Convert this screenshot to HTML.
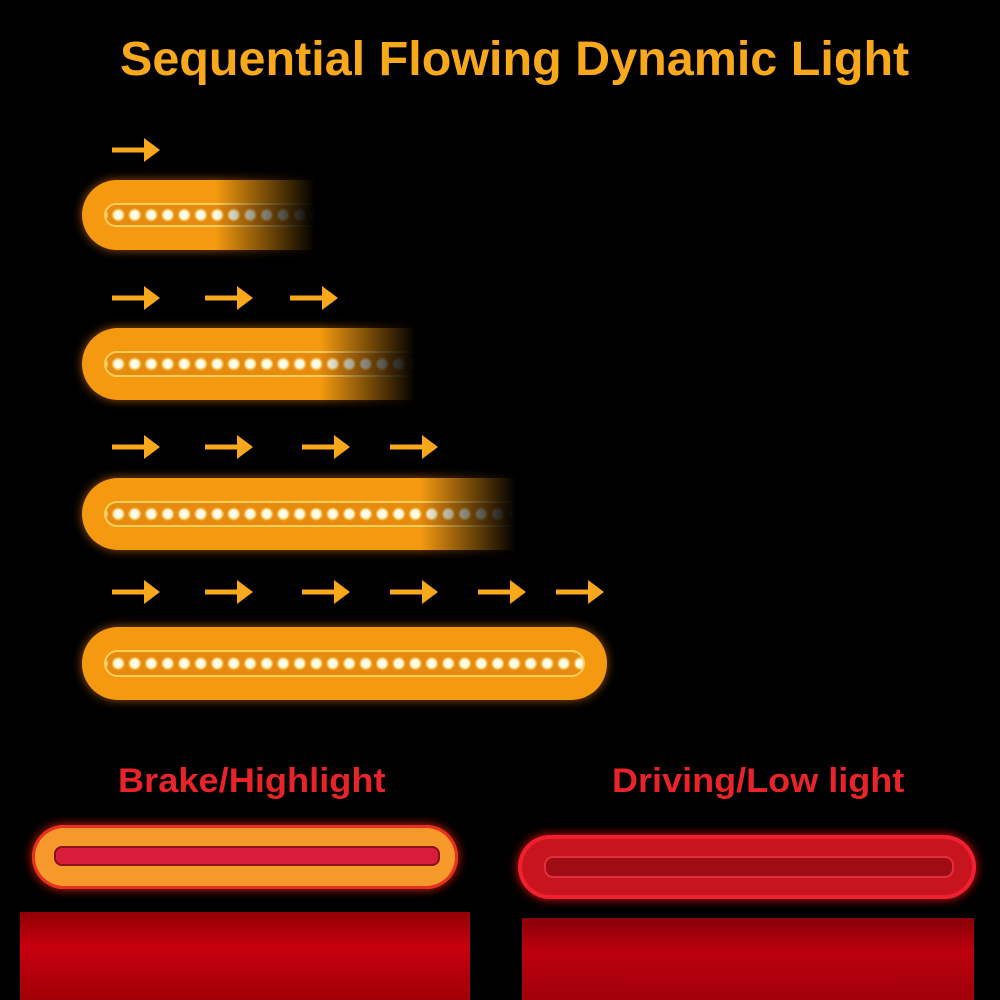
<!DOCTYPE html>
<html><head><style>
body{margin:0;width:1000px;height:1000px;background:#000;position:relative;overflow:hidden;font-family:"Liberation Sans",sans-serif}
.t{position:absolute;font-weight:bold;white-space:nowrap;transform-origin:left top}
.bar{position:absolute;border-radius:36px;background:#f59a10;box-shadow:0 0 10px rgba(255,140,0,.6)}
.bar .in{position:absolute;left:22px;right:22px;top:23px;bottom:23px;border-radius:14px;border:2px solid #ffce5a;background:#e68a10;
background-image:radial-gradient(circle,#fffbe8 0 4px,#ffd36a 5px,rgba(0,0,0,0) 7px);background-size:16.5px 100%;background-position:4px 0}
.fade{position:absolute;top:0;bottom:0}
</style></head><body>
<div class="t" style="left:120px;top:32px;font-size:48px;color:#f7a81b;transform:scaleX(1.01)">Sequential Flowing Dynamic Light</div>

<div class="bar" style="left:82px;top:180px;width:300px;height:70px"><div class="in"></div></div>
<div class="fade" style="left:215px;top:165px;width:200px;height:100px;background:linear-gradient(90deg,rgba(0,0,0,0),#000 50%)"></div>

<div class="bar" style="left:82px;top:328px;width:400px;height:72px"><div class="in"></div></div>
<div class="fade" style="left:320px;top:313px;width:200px;height:102px;background:linear-gradient(90deg,rgba(0,0,0,0),#000 48%)"></div>

<div class="bar" style="left:82px;top:478px;width:500px;height:72px"><div class="in"></div></div>
<div class="fade" style="left:420px;top:463px;width:200px;height:102px;background:linear-gradient(90deg,rgba(0,0,0,0),#000 48%)"></div>

<div class="bar" style="left:82px;top:627px;width:525px;height:73px"><div class="in"></div></div>

<svg width="1000" height="1000" style="position:absolute;left:0;top:0">
<defs><g id="a"><rect x="0" y="-2.5" width="36" height="5" fill="#f7a81b"/><polygon points="32,-12 48,0 32,12" fill="#f7a81b"/></g></defs>
<use href="#a" x="112" y="150"/>
<use href="#a" x="112" y="298"/><use href="#a" x="205" y="298"/><use href="#a" x="290" y="298"/>
<use href="#a" x="112" y="447"/><use href="#a" x="205" y="447"/><use href="#a" x="302" y="447"/><use href="#a" x="390" y="447"/>
<use href="#a" x="112" y="592"/><use href="#a" x="205" y="592"/><use href="#a" x="302" y="592"/><use href="#a" x="390" y="592"/><use href="#a" x="478" y="592"/><use href="#a" x="556" y="592"/>
</svg>

<div class="t" style="left:118px;top:762px;font-size:34px;color:#e8242a;transform:scaleX(1.065)">Brake/Highlight</div>
<div class="t" style="left:612px;top:762px;font-size:34px;color:#e8242a;transform:scaleX(1.06)">Driving/Low light</div>

<div style="position:absolute;left:32px;top:825px;width:426px;height:64px;border-radius:32px;background:#f59a2a;box-shadow:0 0 10px #e02010,inset 0 0 0 3px #e83020"></div>
<div style="position:absolute;left:54px;top:846px;width:382px;height:16px;border-radius:8px;background:#d81e3a;border:2px solid #8a1020"></div>
<div style="position:absolute;left:20px;top:912px;width:450px;height:88px;background:linear-gradient(180deg,#900006,#c8000e 40%,#a00008)"></div>

<div style="position:absolute;left:518px;top:835px;width:458px;height:64px;border-radius:32px;background:#c8141c;box-shadow:0 0 10px #e01010,inset 0 0 0 4px #f02030"></div>
<div style="position:absolute;left:544px;top:856px;width:406px;height:18px;border-radius:9px;background:#a00c14;border:2px solid #e03040"></div>
<div style="position:absolute;left:522px;top:918px;width:452px;height:82px;background:linear-gradient(180deg,#880008,#bc000e 40%,#a0000a)"></div>
</body></html>
